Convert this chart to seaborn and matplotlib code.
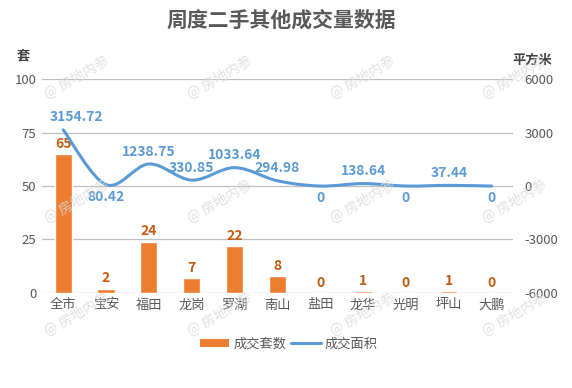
import numpy as np
import pandas as pd
import matplotlib
matplotlib.use("Agg")
import matplotlib.pyplot as plt
import seaborn as sns
from matplotlib.path import Path
from matplotlib.patches import PathPatch, Patch
from matplotlib.lines import Line2D

districts = ["全市", "宝安", "福田", "龙岗", "罗湖", "南山", "盐田", "龙华", "光明", "坪山", "大鹏"]
units = [65, 2, 24, 7, 22, 8, 0, 1, 0, 1, 0]
area = [3154.72, 80.42, 1238.75, 330.85, 1033.64, 294.98, 0, 138.64, 0, 37.44, 0]
area_labels = ["3154.72", "80.42", "1238.75", "330.85", "1033.64", "294.98", "0", "138.64", "0", "37.44", "0"]
area_below = [False, True, False, False, False, False, True, False, True, False, True]

sns.set_style("white")
plt.rcParams["font.family"] = ["Noto Sans CJK SC", "DejaVu Sans"]

ORANGE = "#ED7D31"
BLUE = "#5B9BD5"
GREY = "#595959"

fig = plt.figure(figsize=(5.72, 3.88), dpi=100)
ax = fig.add_axes([0.073, 0.245, 0.824, 0.551])

df = pd.DataFrame({"district": districts, "units": units})
sns.barplot(data=df, x="district", y="units", color=ORANGE, width=0.4,
            saturation=1, ax=ax, zorder=2)
ax.set_xlim(-0.5, len(districts) - 0.5)
ax.set_ylim(0, 100)
ax.set_yticks([0, 25, 50, 75, 100])
ax.grid(axis="y", color="#BFBFBF", linewidth=0.9, zorder=0)
ax.set_axisbelow(True)
for s in ax.spines.values():
    s.set_visible(False)
ax.set_xlabel("")
ax.set_ylabel("")
ax.tick_params(axis="both", length=0, colors=GREY, labelsize=9.5, pad=4)

for i, v in enumerate(units):
    ax.text(i, v + 1.5, str(v), ha="center", va="bottom", color="#C55A11",
            fontsize=10, fontweight="bold", zorder=5)

ax2 = ax.twinx()
ax2.set_ylim(-6000, 6000)
ax2.set_yticks([-6000, -3000, 0, 3000, 6000])
ax2.set_yticklabels(["-6000", "-3000", "0", "3000", "6000"])
for s in ax2.spines.values():
    s.set_visible(False)
ax2.tick_params(axis="y", length=0, colors=GREY, labelsize=9.5, pad=8)

# smooth line through the points (Catmull-Rom style bezier segments)
xs = np.arange(len(area), dtype=float)
ys = np.array(area, dtype=float)
verts = [(xs[0], ys[0])]
codes = [Path.MOVETO]
n = len(xs)
for i in range(n - 1):
    p0 = np.array([xs[max(i - 1, 0)], ys[max(i - 1, 0)]])
    p1 = np.array([xs[i], ys[i]])
    p2 = np.array([xs[i + 1], ys[i + 1]])
    p3 = np.array([xs[min(i + 2, n - 1)], ys[min(i + 2, n - 1)]])
    c1 = p1 + (p2 - p0) / 6
    c2 = p2 - (p3 - p1) / 6
    verts += [tuple(c1), tuple(c2), tuple(p2)]
    codes += [Path.CURVE4] * 3
ax2.add_patch(PathPatch(Path(verts, codes), facecolor="none", edgecolor=BLUE,
                        linewidth=2.2, zorder=4, capstyle="round"))

for i, (v, lab, below) in enumerate(zip(area, area_labels, area_below)):
    lx = i + 0.3 if i == 0 else i
    if below:
        ax2.text(lx, v - 300, lab, ha="center", va="top", color=BLUE,
                 fontsize=10, fontweight="bold", zorder=5)
    else:
        ax2.text(lx, v + 300, lab, ha="center", va="bottom", color=BLUE,
                 fontsize=10, fontweight="bold", zorder=5)

fig.text(0.491, 0.948, "周度二手其他成交量数据", ha="center", va="center",
         fontsize=15, fontweight="bold", color=GREY)
fig.text(0.040, 0.858, "套", ha="center", va="center", fontsize=9.5,
         fontweight="bold", color="#404040")
fig.text(0.930, 0.845, "平方米", ha="center", va="center", fontsize=9.5,
         fontweight="bold", color="#404040")

handles = [Patch(facecolor=ORANGE, edgecolor="none"),
           Line2D([0], [0], color=BLUE, linewidth=2.2)]
fig.legend(handles, ["成交套数", "成交面积"], loc="center", ncol=2,
           bbox_to_anchor=(0.505, 0.113), frameon=False, fontsize=9.5,
           labelcolor=GREY, handlelength=2.2, handleheight=0.6,
           columnspacing=0.4, handletextpad=0.3)

# watermark
for wy in [0.80, 0.48, 0.19]:
    for wx in [0.135, 0.385, 0.635, 0.90]:
        fig.text(wx, wy, "@ 房地内参", ha="center", va="center", rotation=30,
                 fontsize=10, color="#D9D9D9", alpha=0.8, zorder=10)

fig.savefig("out.png", dpi=100)
